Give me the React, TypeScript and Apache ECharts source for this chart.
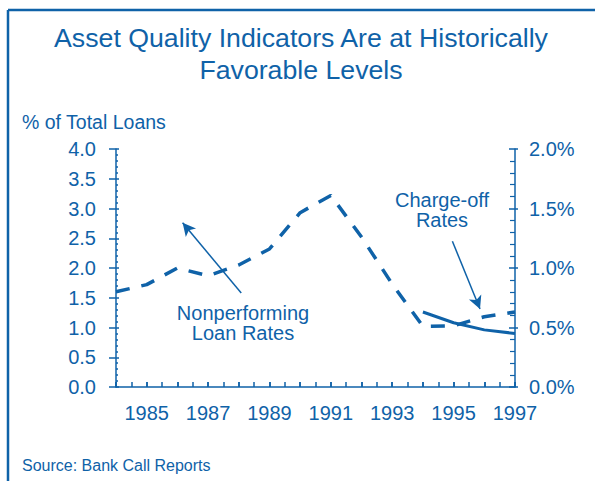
import React, { useEffect, useRef } from "react";
import * as echarts from "echarts";

const years = [1984, 1985, 1986, 1987, 1988, 1989, 1990, 1991, 1992, 1993, 1994, 1995, 1996, 1997];
const nonperforming = [1.6, 1.72, 2.0, 1.87, 2.05, 2.32, 2.93, 3.22, 2.52, 1.73, 1.02, 1.03, 1.18, 1.26];
const chargeoffYears = [1994, 1995, 1996, 1997];
const chargeoff = [0.63, 0.54, 0.48, 0.45];
const titleLines = ["Asset Quality Indicators Are at Historically", "Favorable Levels"];
const leftAxisName = "% of Total Loans";
const npLabel = ["Nonperforming", "Loan Rates"];
const coLabel = ["Charge-off", "Rates"];
const sourceText = "Source: Bank Call Reports";
const npArrow = [[1988.08, 1.58], [1986.17, 2.76]];
const coArrow = [[1994.96, 2.45], [1995.86, 1.31]];

const BLUE = "#0f62a8";
const FONT = "'Liberation Sans', Arial, Helvetica, sans-serif";

export default function App() {
  const ref = useRef<HTMLDivElement>(null);
  useEffect(() => {
    const chart = echarts.init(ref.current!, null, { renderer: "svg" });
    const xBase = {
      type: "value",
      min: 1984,
      max: 1997,
      interval: 1,
      gridIndex: 0,
      splitLine: { show: false },
    };
    const leftBase = { type: "value", min: 0, max: 4, interval: 0.5, position: "left", splitLine: { show: false } };
    const rightBase = { type: "value", min: 0, max: 2, interval: 0.5, position: "right", splitLine: { show: false } };
    const option = {
      animation: false,
      grid: { left: 116, right: 80, top: 149, bottom: 94 },
      xAxis: [
        {
          ...xBase,
          axisLine: { lineStyle: { color: BLUE, width: 1.5 } },
          axisTick: { inside: true, length: 5, lineStyle: { color: BLUE, width: 1.5 } },
          minorTick: { show: true, splitNumber: 2, length: 5, lineStyle: { color: BLUE, width: 1.5 } },
          axisLabel: {
            color: BLUE,
            fontSize: 20,
            fontFamily: FONT,
            margin: 16,
            formatter: (v: number) => (v % 2 === 1 ? String(v) : ""),
          },
        },
        {
          ...xBase,
          axisLine: { show: false },
          axisTick: { inside: false, length: 5, lineStyle: { color: BLUE, width: 1.5 } },
          axisLabel: { show: false },
        },
      ],
      yAxis: [
        {
          ...leftBase,
          axisLine: { show: true, lineStyle: { color: BLUE, width: 1.5 } },
          axisTick: { show: true, inside: false, length: 7, lineStyle: { color: BLUE, width: 1.5 } },
          axisLabel: {
            color: BLUE,
            fontSize: 20,
            fontFamily: FONT,
            margin: 20,
            formatter: (v: number) => v.toFixed(1),
          },
        },
        {
          ...rightBase,
          axisLine: { show: true, lineStyle: { color: BLUE, width: 1.5 } },
          axisTick: { show: true, inside: true, length: 6, lineStyle: { color: BLUE, width: 1.5 } },
          minorTick: { show: true, splitNumber: 5, length: 5, lineStyle: { color: BLUE, width: 1.2 } },
          axisLabel: {
            color: BLUE,
            fontSize: 20,
            fontFamily: FONT,
            margin: 14,
            formatter: (v: number) => v.toFixed(1) + "%",
          },
        },
        {
          ...leftBase,
          axisLine: { show: false },
          axisTick: { show: true, inside: true, length: 3, lineStyle: { color: BLUE, width: 1.5 } },
          minorTick: { show: true, splitNumber: 5, length: 2, lineStyle: { color: BLUE, width: 1.5 } },
          axisLabel: { show: false },
        },
        {
          ...rightBase,
          axisLine: { show: false },
          axisTick: { show: true, inside: false, length: 3, lineStyle: { color: BLUE, width: 1.5 } },
          axisLabel: { show: false },
        },
      ],
      series: [
        {
          type: "line",
          xAxisIndex: 0,
          yAxisIndex: 0,
          data: years.map((y, i) => [y, nonperforming[i]]),
          showSymbol: false,
          symbol: "none",
          lineStyle: { color: BLUE, width: 3.5, type: [14, 12], dashOffset: 0 },
          markLine: {
            silent: true,
            symbol: ["none", "arrow"],
            symbolSize: [10, 13],
            label: { show: false },
            itemStyle: { color: BLUE },
            lineStyle: { color: BLUE, width: 1.5, type: "solid" },
            data: [
              [{ coord: npArrow[0] }, { coord: npArrow[1] }],
              [{ coord: coArrow[0] }, { coord: coArrow[1] }],
            ],
          },
        },
        {
          type: "line",
          xAxisIndex: 0,
          yAxisIndex: 1,
          data: chargeoffYears.map((y, i) => [y, chargeoff[i]]),
          showSymbol: false,
          symbol: "none",
          lineStyle: { color: BLUE, width: 3 },
        },
      ],
      graphic: [
        { type: "line", shape: { x1: 8, y1: 10, x2: 595, y2: 10 }, style: { stroke: BLUE, lineWidth: 2.5 } },
        { type: "line", shape: { x1: 8, y1: 10, x2: 8, y2: 481 }, style: { stroke: BLUE, lineWidth: 2.5 } },
        {
          type: "text",
          x: 301,
          y: 38,
          style: { text: titleLines[0], fill: BLUE, fontSize: 26.7, fontFamily: FONT, align: "center", verticalAlign: "middle" },
        },
        {
          type: "text",
          x: 301,
          y: 70,
          style: { text: titleLines[1], fill: BLUE, fontSize: 26.7, fontFamily: FONT, align: "center", verticalAlign: "middle" },
        },
        {
          type: "text",
          x: 22,
          y: 122,
          style: { text: leftAxisName, fill: BLUE, fontSize: 19.5, fontFamily: FONT, align: "left", verticalAlign: "middle" },
        },
        {
          type: "text",
          x: 243,
          y: 313,
          style: { text: npLabel[0], fill: BLUE, fontSize: 20, fontFamily: FONT, align: "center", verticalAlign: "middle" },
        },
        {
          type: "text",
          x: 243,
          y: 333,
          style: { text: npLabel[1], fill: BLUE, fontSize: 20, fontFamily: FONT, align: "center", verticalAlign: "middle" },
        },
        {
          type: "text",
          x: 442,
          y: 200,
          style: { text: coLabel[0], fill: BLUE, fontSize: 20, fontFamily: FONT, align: "center", verticalAlign: "middle" },
        },
        {
          type: "text",
          x: 442,
          y: 220,
          style: { text: coLabel[1], fill: BLUE, fontSize: 20, fontFamily: FONT, align: "center", verticalAlign: "middle" },
        },
        {
          type: "text",
          x: 22,
          y: 465,
          style: { text: sourceText, fill: BLUE, fontSize: 16, fontFamily: FONT, align: "left", verticalAlign: "middle" },
        },
      ],
    };
    chart.setOption(option as any);
    return () => chart.dispose();
  }, []);
  return (
    <div
      ref={ref}
      style={{ position: "fixed", left: 0, top: 0, width: 595, height: 481, background: "#ffffff" }}
    />
  );
}
